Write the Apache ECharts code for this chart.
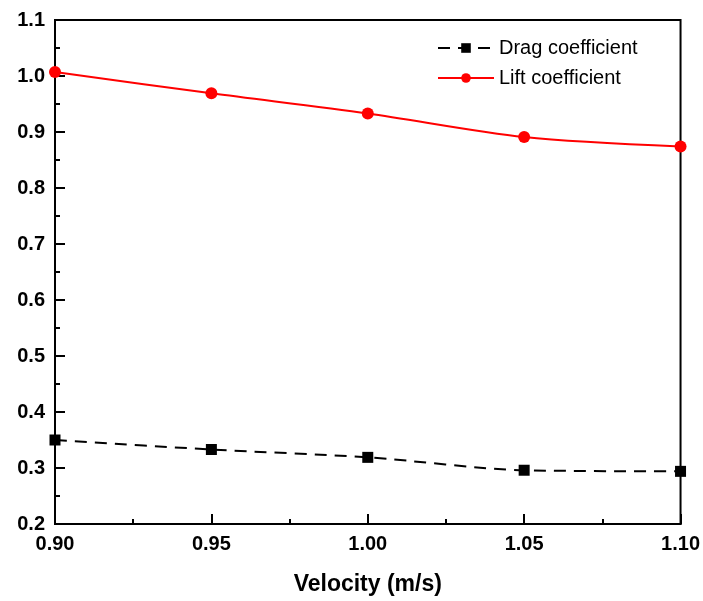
<!DOCTYPE html>
<html>
<head>
<meta charset="utf-8">
<script src="https://cdn.jsdelivr.net/npm/echarts@6/dist/echarts.min.js"></script>
<style>
  html, body { margin: 0; padding: 0; background: #fff; }
  #chart { width: 703px; height: 601px; }
</style>
</head>
<body>
<div id="chart"></div>
<script>
const velocity = [0.90, 0.95, 1.00, 1.05, 1.10]
const dragCoefficient = [0.350, 0.333, 0.319, 0.296, 0.294]
const liftCoefficient = [1.007, 0.969, 0.933, 0.891, 0.874]

const font = '"Liberation Sans", Arial, sans-serif'
const chart = echarts.init(document.getElementById('chart'))

chart.setOption({
  backgroundColor: '#fff',
  animation: false,
  grid: {
    left: 55, right: 21, top: 20, bottom: 77,
    show: true, borderColor: '#000', borderWidth: 2
  },
  legend: {
    orient: 'vertical',
    left: 432,
    top: 33,
    itemWidth: 56,
    itemHeight: 12,
    itemGap: 10,
    textStyle: { fontFamily: font, fontSize: 20, color: '#000' },
    data: ['Drag coefficient', 'Lift coefficient']
  },
  xAxis: {
    type: 'value',
    min: 0.9,
    max: 1.1,
    interval: 0.05,
    name: 'Velocity (m/s)',
    nameLocation: 'middle',
    nameGap: 49,
    nameTextStyle: { fontFamily: font, fontSize: 23, fontWeight: 'bold', color: '#000' },
    axisLine: { lineStyle: { color: '#000', width: 2 } },
    axisTick: { inside: true, length: 10, lineStyle: { color: '#000', width: 2 } },
    minorTick: { show: true, splitNumber: 2, length: 5, lineStyle: { color: '#000', width: 2 } },
    splitLine: { show: false },
    axisLabel: {
      fontFamily: font, fontSize: 20, fontWeight: 'bold', color: '#000', margin: 10,
      formatter: (v) => v.toFixed(2)
    }
  },
  yAxis: {
    type: 'value',
    min: 0.2,
    max: 1.1,
    interval: 0.1,
    axisLine: { show: true, lineStyle: { color: '#000', width: 2 } },
    axisTick: { inside: true, length: 10, lineStyle: { color: '#000', width: 2 } },
    minorTick: { show: true, splitNumber: 2, length: 5, lineStyle: { color: '#000', width: 2 } },
    splitLine: { show: false },
    axisLabel: {
      fontFamily: font, fontSize: 20, fontWeight: 'bold', color: '#000', margin: 10,
      formatter: (v) => v.toFixed(1)
    }
  },
  series: [
    {
      name: 'Drag coefficient',
      type: 'line',
      smooth: 0.3,
      data: velocity.map((v, i) => [v, dragCoefficient[i]]),
      symbol: 'rect',
      symbolSize: 11,
      itemStyle: { color: '#000' },
      lineStyle: { color: '#000', width: 2, type: [12, 8] }
    },
    {
      name: 'Lift coefficient',
      type: 'line',
      smooth: 0.3,
      data: velocity.map((v, i) => [v, liftCoefficient[i]]),
      symbol: 'circle',
      symbolSize: 12,
      itemStyle: { color: '#ff0000' },
      lineStyle: { color: '#ff0000', width: 2 }
    }
  ]
})
</script>
</body>
</html>
